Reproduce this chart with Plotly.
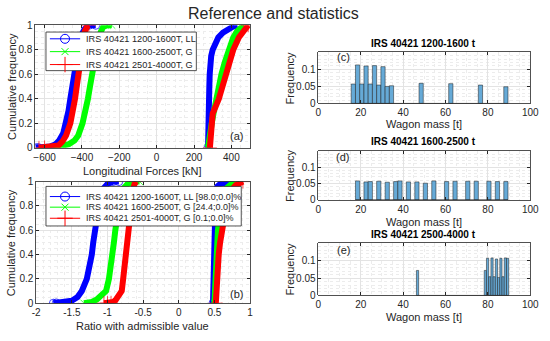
import plotly.graph_objects as go

W, H = 550, 341
def PX(x): return x / W
def PY(y): return 1 - y / H

# ---------------- data ----------------
series_names_a = ["IRS 40421 1200-1600T, LL", "IRS 40421 1600-2500T, G", "IRS 40421 2501-4000T, G"]
series_names_b = ["IRS 40421 1200-1600T, LL [98.0;0.0]%", "IRS 40421 1600-2500T, G [24.4;0.0]%",
                  "IRS 40421 2501-4000T, G [0.1;0.0]%"]

# (a) longitudinal forces [kN] - cumulative frequency
a_blue_neg_x = [-648, -635, -610, -570, -540, -522, -500, -484, -472, -462, -453, -444, -434, -423, -412, -400, -385, -362, -326]
a_blue_neg_f = [0, 0.003, 0.006, 0.01, 0.03, 0.06, 0.12, 0.2, 0.3, 0.4, 0.5, 0.6, 0.7, 0.8, 0.87, 0.93, 0.97, 1, 1]
a_blue_pos_x = [275, 278, 280, 282, 284, 287, 292, 300, 312, 330, 355, 385, 410, 432]
a_blue_pos_f = [0, 0.1, 0.3, 0.5, 0.6, 0.7, 0.75, 0.8, 0.85, 0.9, 0.94, 0.97, 0.99, 1]

a_green_neg_x = [-550, -530, -510, -470, -440, -420, -397, -380, -368, -357, -347, -337, -325, -310, -298, -285, -265, -240]
a_green_neg_f = [0, 0.005, 0.01, 0.03, 0.06, 0.1, 0.2, 0.3, 0.4, 0.5, 0.6, 0.7, 0.8, 0.9, 0.95, 0.99, 1, 1]
a_green_pos_x = [275, 282, 295, 307, 318, 332, 347, 365, 384, 410, 430, 465]
a_green_pos_f = [0, 0.1, 0.2, 0.3, 0.4, 0.5, 0.6, 0.7, 0.8, 0.9, 0.95, 1]

a_red_neg_x = [-630, -600, -570, -545, -525, -505, -485, -462, -447, -437, -428, -420, -413, -405, -395, -385, -372, -363]
a_red_neg_f = [0, 0.003, 0.006, 0.01, 0.02, 0.05, 0.1, 0.2, 0.3, 0.4, 0.5, 0.6, 0.7, 0.8, 0.9, 0.95, 0.99, 1]
a_red_pos_x = [285, 288, 292, 300, 333, 352, 372, 392, 410, 440, 465, 490]
a_red_pos_f = [0, 0.1, 0.2, 0.28, 0.4, 0.5, 0.6, 0.7, 0.8, 0.9, 0.96, 1]

# (b) ratio with admissible value - cumulative frequency
b_blue_neg_x = [-1.76, -1.72, -1.66, -1.6, -1.5, -1.42, -1.36, -1.29, -1.25, -1.22, -1.2, -1.17, -1.15, -1.13, -1.1, -1.06, -1.0, -0.92, -0.84]
b_blue_neg_f = [0, 0.002, 0.005, 0.01, 0.02, 0.05, 0.1, 0.2, 0.3, 0.4, 0.5, 0.6, 0.7, 0.8, 0.88, 0.94, 0.98, 1, 1]
b_blue_pos_x = [0.48, 0.49, 0.49, 0.5, 0.5, 0.51, 0.52, 0.54, 0.58, 0.65, 0.72, 0.78]
b_blue_pos_f = [0, 0.2, 0.4, 0.6, 0.8, 0.88, 0.93, 0.96, 0.98, 0.99, 1, 1]

b_green_neg_x = [-1.33, -1.28, -1.22, -1.15, -1.08, -1.02, -0.98, -0.95, -0.93, -0.91, -0.89, -0.87, -0.85, -0.82, -0.78, -0.72, -0.62, -0.55]
b_green_neg_f = [0, 0.005, 0.01, 0.03, 0.06, 0.1, 0.2, 0.3, 0.4, 0.5, 0.6, 0.7, 0.8, 0.88, 0.94, 0.98, 1, 1]
b_green_pos_x = [0.5, 0.51, 0.52, 0.54, 0.55, 0.57, 0.58, 0.61, 0.66, 0.74, 0.84]
b_green_pos_f = [0, 0.2, 0.4, 0.5, 0.6, 0.7, 0.8, 0.88, 0.94, 0.98, 1]

b_red_neg_x = [-1.05, -1.0, -0.95, -0.92, -0.88, -0.84, -0.8, -0.78, -0.76, -0.75, -0.73, -0.72, -0.7, -0.68, -0.66, -0.64, -0.62, -0.6]
b_red_neg_f = [0, 0, 0.003, 0.01, 0.03, 0.06, 0.1, 0.2, 0.3, 0.4, 0.5, 0.6, 0.7, 0.8, 0.88, 0.94, 0.98, 1]
b_red_pos_x = [0.52, 0.53, 0.55, 0.56, 0.58, 0.61, 0.63, 0.65, 0.69, 0.74, 0.8, 0.9]
b_red_pos_f = [0, 0.2, 0.3, 0.4, 0.5, 0.6, 0.7, 0.8, 0.88, 0.93, 0.97, 1]

# histograms of wagon mass [t]
c_mass = [16.5, 18.5, 20.5, 22.5, 24.5, 26.5, 28.5, 30.5, 32.5, 34.5, 48.5, 62.5, 76.5, 88.5]
c_freq = [0.057, 0.113, 0.057, 0.110, 0.057, 0.111, 0.054, 0.108, 0.050, 0.052, 0.059, 0.058, 0.054, 0.049]
c_range = [15.5, 89.5]

d_mass = [18.5, 22.5, 24.5, 28.5, 32.5, 36.5, 38.5, 42.5, 46.5, 50.5, 54.5, 60.5, 64.5, 70.5, 74.5, 80.5, 84.5, 88.5]
d_freq = [0.058, 0.055, 0.056, 0.057, 0.054, 0.056, 0.058, 0.055, 0.055, 0.051, 0.058, 0.056, 0.057, 0.057, 0.057, 0.057, 0.056, 0.056]
d_range = [17.5, 89.5]

e_mass = [46.8, 78.8, 79.85, 80.9, 81.95, 83.0, 84.05, 85.1, 86.15, 87.2, 88.25, 89.3]
e_freq = [0.072, 0.072, 0.107, 0.054, 0.108, 0.054, 0.105, 0.052, 0.107, 0.054, 0.108, 0.107]
e_range = [46.3, 89.8]

hist_titles = ["IRS 40421 1200-1600 t", "IRS 40421 1600-2500 t", "IRS 40421 2500-4000 t"]

# ---------------- styling ----------------
FONT = "Liberation Sans, Arial, Helvetica, sans-serif"
TXT = "#262626"
COLORS = ["#0000ff", "#00ff00", "#ff0000"]
SYMBOLS = ["circle-open", "x-thin-open", "cross-thin-open"]
MSIZE = [8, 7, 10]
LEG_MSIZE = [9, 7, 11]
BAR = "rgb(102,170,215)"

fig = go.Figure()

def cdf_trace(nx, nf, ppx, pf, i, xa, ya):
    x = list(nx) + [None] + list(ppx)
    y = list(nf) + [None] + list(pf)
    # individual markers only stand out at the extreme ends of the distribution
    sizes = [MSIZE[i] if (v is not None and (v <= 0.003 or v >= 1)) else 0 for v in y]
    fig.add_trace(go.Scatter(x=x, y=y, mode="lines+markers", xaxis=xa, yaxis=ya,
                             line=dict(color=COLORS[i], width=6),
                             marker=dict(symbol=SYMBOLS[i], size=sizes, color=COLORS[i],
                                         line=dict(width=1, color=COLORS[i])),
                             showlegend=False, hoverinfo="skip", connectgaps=False))

a_data = [(a_blue_neg_x, a_blue_neg_f, a_blue_pos_x, a_blue_pos_f),
          (a_green_neg_x, a_green_neg_f, a_green_pos_x, a_green_pos_f),
          (a_red_neg_x, a_red_neg_f, a_red_pos_x, a_red_pos_f)]
b_data = [(b_blue_neg_x, b_blue_neg_f, b_blue_pos_x, b_blue_pos_f),
          (b_green_neg_x, b_green_neg_f, b_green_pos_x, b_green_pos_f),
          (b_red_neg_x, b_red_neg_f, b_red_pos_x, b_red_pos_f)]

for i, d in enumerate(a_data):
    cdf_trace(*d, i, "x", "y")
for i, d in enumerate(b_data):
    cdf_trace(*d, i, "x2", "y2")

for k, (m, f, r, w) in enumerate([(c_mass, c_freq, c_range, 2.0), (d_mass, d_freq, d_range, 2.0),
                                   (e_mass, e_freq, e_range, 1.05)]):
    xa, ya = "x%d" % (k + 3), "y%d" % (k + 3)
    fig.add_trace(go.Scatter(x=r, y=[0, 0], mode="lines", xaxis=xa, yaxis=ya,
                             line=dict(color="#333333", width=1), showlegend=False, hoverinfo="skip"))
    fig.add_trace(go.Bar(x=m, y=f, width=w, xaxis=xa, yaxis=ya,
                         marker=dict(color=BAR, line=dict(color="#1a1a1a", width=0.5)),
                         showlegend=False))

# ---------- hand-drawn legends on a transparent pixel overlay (x6/y6) ----------
def legend_box(x0, y0, x1, y1, rows_y, names, fsize):
    fig.add_trace(go.Scatter(x=[x0, x1, x1, x0, x0], y=[y0, y0, y1, y1, y0], mode="lines",
                             fill="toself", fillcolor="white", line=dict(color=TXT, width=0.8),
                             xaxis="x6", yaxis="y6", showlegend=False, hoverinfo="skip"))
    for i, (ry, nm) in enumerate(zip(rows_y, names)):
        fig.add_trace(go.Scatter(x=[x0 + 4, x0 + 35], y=[ry, ry], mode="lines", xaxis="x6", yaxis="y6",
                                 line=dict(color=COLORS[i], width=1), showlegend=False, hoverinfo="skip"))
        fig.add_trace(go.Scatter(x=[x0 + 19.5], y=[ry], mode="markers", xaxis="x6", yaxis="y6",
                                 marker=dict(symbol=SYMBOLS[i], size=LEG_MSIZE[i], color=COLORS[i],
                                             line=dict(width=1, color=COLORS[i])),
                                 showlegend=False, hoverinfo="skip"))
        fig.add_annotation(text=nm, x=PX(x0 + 39), y=PY(ry), xref="paper", yref="paper",
                           xanchor="left", yanchor="middle", showarrow=False,
                           font=dict(family=FONT, size=fsize, color=TXT))

legend_box(43, 27, 197, 67, [34, 47.3, 60.7], series_names_a, 9.2)
legend_box(43, 187, 243, 228, [197.5, 208.5, 220], series_names_b, 9)

def axis(domain, rng, tickvals, ticktext=None, minor_dtick=None, anchor=None):
    d = dict(domain=domain, range=rng, tickvals=tickvals, showline=True, mirror="ticks",
             linecolor=TXT, linewidth=0.8, ticks="inside", ticklen=3, tickcolor=TXT,
             tickfont=dict(family=FONT, size=10, color=TXT), showgrid=True,
             gridcolor="#e3e3e3", gridwidth=1, zeroline=False, anchor=anchor)
    if ticktext is not None:
        d["ticktext"] = ticktext
    if minor_dtick is not None:
        d["minor"] = dict(dtick=minor_dtick, showgrid=True, gridcolor="#ececec", griddash="dot",
                          gridwidth=1, ticks="")
    return d

yt = [0, 0.2, 0.4, 0.6, 0.8, 1]
ytt = ["0", "0.2", "0.4", "0.6", "0.8", "1"]
ht = [0, 0.05, 0.1]
htt = ["0", "0.05", "0.1"]
mt = [0, 20, 40, 60, 80, 100]

layout = dict(
    width=W, height=H, margin=dict(l=0, r=0, t=0, b=0),
    paper_bgcolor="white", plot_bgcolor="rgba(0,0,0,0)", bargap=0, showlegend=False,
    font=dict(family=FONT, size=11, color=TXT),
    xaxis=axis([PX(32), PX(252)], [-650, 500], [-600, -400, -200, 0, 200, 400], minor_dtick=50, anchor="y"),
    yaxis=axis([PY(147), PY(20)], [0, 1], yt, ytt, minor_dtick=0.05, anchor="x"),
    xaxis2=axis([PX(33), PX(252)], [-2, 1], [-2, -1.5, -1, -0.5, 0, 0.5, 1],
                ["-2", "-1.5", "-1", "-0.5", "0", "0.5", "1"], minor_dtick=0.1, anchor="y2"),
    yaxis2=axis([PY(308), PY(182)], [0, 1], yt, ytt, minor_dtick=0.05, anchor="x2"),
    xaxis3=axis([PX(322), PX(539)], [0, 100], mt, minor_dtick=5, anchor="y3"),
    yaxis3=axis([PY(101), PY(48)], [0, 0.15], ht, htt, minor_dtick=0.01, anchor="x3"),
    xaxis4=axis([PX(322), PX(539)], [0, 100], mt, minor_dtick=5, anchor="y4"),
    yaxis4=axis([PY(201), PY(150)], [0, 0.15], ht, htt, minor_dtick=0.01, anchor="x4"),
    xaxis5=axis([PX(322), PX(539)], [0, 100], mt, minor_dtick=5, anchor="y5"),
    yaxis5=axis([PY(300), PY(246)], [0, 0.15], ht, htt, minor_dtick=0.01, anchor="x5"),
    xaxis6=dict(domain=[0, 1], range=[0, W], visible=False, fixedrange=True, anchor="y6"),
    yaxis6=dict(domain=[0, 1], range=[H, 0], visible=False, fixedrange=True, anchor="x6"),
)
fig.update_layout(**layout)

def ann(text, x, y, size=11, angle=0, bold=False, xanchor="center"):
    fig.add_annotation(text=("<b>%s</b>" % text) if bold else text, x=PX(x), y=PY(y),
                       xref="paper", yref="paper", showarrow=False, textangle=angle,
                       xanchor=xanchor, yanchor="middle",
                       font=dict(family=FONT, size=size, color="black" if bold else TXT))

ann("Reference and statistics", 276, 8, size=16)
ann("Cumulative frequency", 8, 83, angle=-90)
ann("Cumulative frequency", 8, 245, angle=-90)
ann("Longitudinal Forces [kN]", 142, 171)
ann("Ratio with admissible value", 142, 332)
ann("(a)", 238, 135)
ann("(b)", 238, 298)
ann("(c)", 348, 53)
ann("(d)", 347, 157)
ann("(e)", 348, 253)
for t, y in zip(hist_titles, [39, 140, 237]):
    ann(t, 430, y, size=10, bold=True)
ann("Frequency", 293, 75, angle=-90)
ann("Frequency", 293, 176, angle=-90)
ann("Frequency", 293, 273, angle=-90)
ann("Wagon mass [t]", 430, 122)
ann("Wagon mass [t]", 430, 224)
ann("Wagon mass [t]", 430, 322)

fig.write_html("out.html", config={"displayModeBar": False, "staticPlot": True},
               post_script="document.body.style.margin='0px';")
